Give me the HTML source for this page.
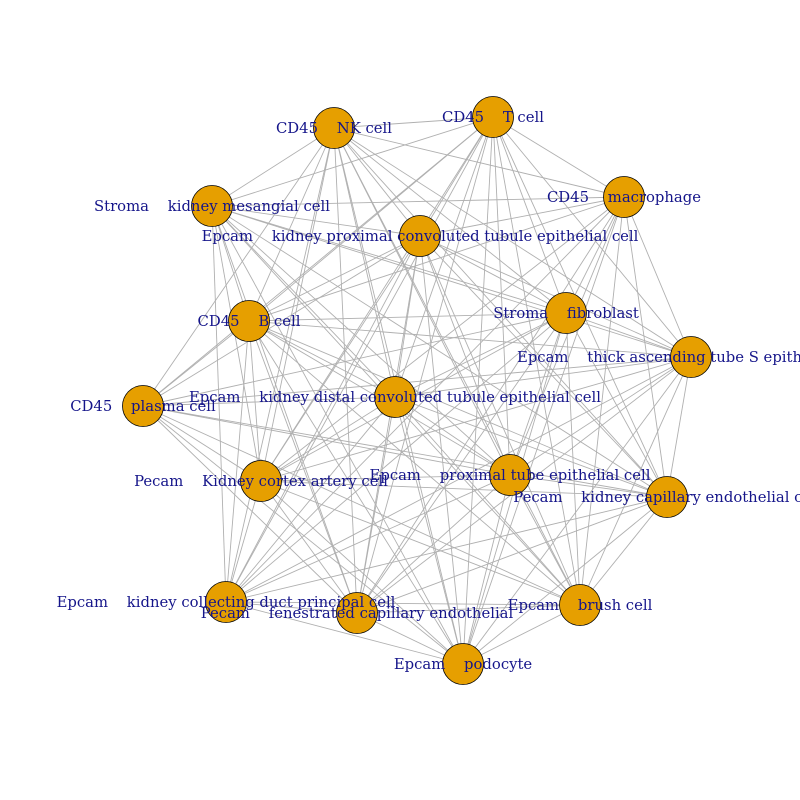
<!DOCTYPE html>
<html><head><meta charset="utf-8"><style>
html,body{margin:0;padding:0;background:#fff;width:800px;height:800px;overflow:hidden}
text{font-family:"DejaVu Serif",serif;font-size:14.8px;fill:#15158a;white-space:pre}
</style></head><body>
<svg id="s" width="800" height="800" xmlns="http://www.w3.org/2000/svg" xml:space="preserve">
<g id="e" stroke="#b0b0b0" stroke-width="0.9"></g>
<g id="n" fill="#E69F00" stroke="#000" stroke-width="0.8"></g>
<g id="t" text-anchor="middle"></g>
</svg>
<script>
var N=[
[334,128,"CD45    NK cell"],
[493,117,"CD45    T cell"],
[624,197,"CD45    macrophage"],
[212,206,"Stroma    kidney mesangial cell"],
[420,236,"Epcam    kidney proximal convoluted tubule epithelial cell"],
[566,313,"Stroma    fibroblast"],
[249,321,"CD45    B cell"],
[691,357,"Epcam    thick ascending tube S epithelial cell"],
[143,406,"CD45    plasma cell"],
[395,397,"Epcam    kidney distal convoluted tubule epithelial cell"],
[261,481,"Pecam    Kidney cortex artery cell"],
[510,475,"Epcam    proximal tube epithelial cell"],
[667,497,"Pecam    kidney capillary endothelial cell"],
[226,602,"Epcam    kidney collecting duct principal cell"],
[357,613,"Pecam    fenestrated capillary endothelial"],
[580,605,"Epcam    brush cell"],
[463,664,"Epcam    podocyte"]];
var ns="http://www.w3.org/2000/svg",e=document.getElementById("e"),n=document.getElementById("n"),t=document.getElementById("t");
var skip={"2-8":1,"3-8":1,"2-9":1,"8-13":1};
for(var i=0;i<N.length;i++)for(var j=i+1;j<N.length;j++){if(skip[i+"-"+j])continue;
var l=document.createElementNS(ns,"line");l.setAttribute("x1",N[i][0]);l.setAttribute("y1",N[i][1]);l.setAttribute("x2",N[j][0]);l.setAttribute("y2",N[j][1]);e.appendChild(l);}
N.forEach(function(p){var c=document.createElementNS(ns,"circle");c.setAttribute("cx",p[0]);c.setAttribute("cy",p[1]);c.setAttribute("r",20.5);n.appendChild(c);
var x=document.createElementNS(ns,"text");x.setAttribute("x",p[0]);x.setAttribute("y",p[1]+5);x.textContent=p[2];t.appendChild(x);});
</script>
</body></html>
